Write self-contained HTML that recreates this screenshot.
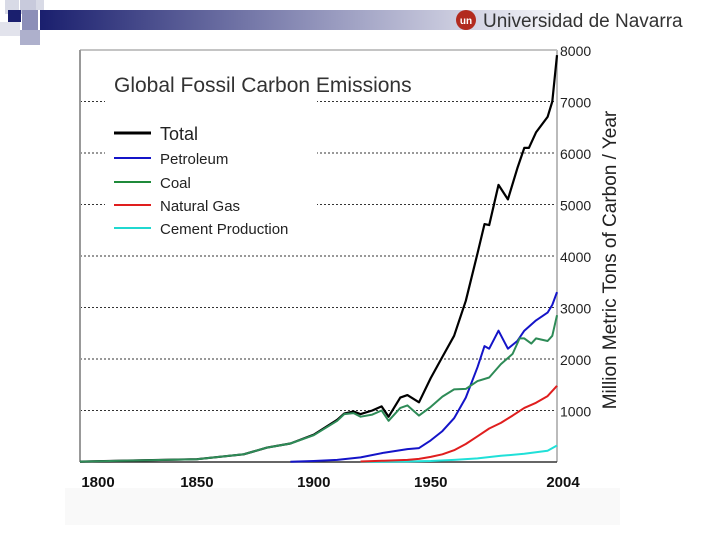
<!DOCTYPE html>
<html><head><meta charset="utf-8"><style>
body{margin:0;background:#fff;width:720px;height:540px;overflow:hidden;font-family:"Liberation Sans",sans-serif}
</style></head><body>
<svg id="c" width="720" height="540" xmlns="http://www.w3.org/2000/svg">
<defs><linearGradient id="g" x1="0" x2="1"><stop offset="0" stop-color="#1a1f6e"/><stop offset="0.55" stop-color="#9a9cc0"/><stop offset="1" stop-color="#fff"/></linearGradient></defs>
<g>
<rect x="40" y="10" width="540" height="20" fill="url(#g)"/>
<rect x="5" y="0" width="14" height="14" fill="#d8dae6"/>
<rect x="20" y="0" width="16" height="14" fill="#c8cadc"/>
<rect x="8" y="10" width="13" height="12" fill="#1a1f6e"/>
<rect x="22" y="10" width="16" height="20" fill="#8c8fb8"/>
<rect x="36" y="0" width="8" height="10" fill="#d8dae6"/>
<rect x="0" y="22" width="20" height="14" fill="#e2e3ec"/>
<rect x="20" y="30" width="20" height="15" fill="#aeb0cc"/>
</g>
<g>
<circle cx="466" cy="20" r="10" fill="#b22a1e"/>
<text x="466" y="24" font-size="10" font-weight="bold" fill="#fff" text-anchor="middle">un</text>
<text x="483" y="27" font-size="19" fill="#333">Universidad de Navarra</text>
</g>
<rect x="65" y="488" width="555" height="37" fill="#f9f9f9"/>
<g id="grid"></g>
<g id="axes"></g>
<g id="series"></g>
<g>
<rect x="105" y="70" width="212" height="172" fill="#fff"/>
<text x="114" y="92" font-size="21" fill="#333">Global Fossil Carbon Emissions</text>
<g><line x1="114" x2="151" y1="133" y2="133" stroke="#000" stroke-width="3"/><text x="160" y="140" font-size="18" fill="#222">Total</text></g>
<g><line x1="114" x2="151" y1="158" y2="158" stroke="#1414c8" stroke-width="2"/><text x="160" y="164" font-size="15" fill="#222">Petroleum</text></g>
<g><line x1="114" x2="151" y1="182" y2="182" stroke="#1f8a3a" stroke-width="2"/><text x="160" y="188" font-size="15" fill="#222">Coal</text></g>
<g><line x1="114" x2="151" y1="205" y2="205" stroke="#e01e1e" stroke-width="2"/><text x="160" y="211" font-size="15" fill="#222">Natural Gas</text></g>
<g><line x1="114" x2="151" y1="228" y2="228" stroke="#20d8d0" stroke-width="2"/><text x="160" y="234" font-size="15" fill="#222">Cement Production</text></g>
</g>
<text transform="translate(616,260) rotate(-90)" font-size="19" fill="#222" text-anchor="middle">Million Metric Tons of Carbon / Year</text>
</svg>
<script>
const yTicks=[1000,2000,3000,4000,5000,6000,7000,8000];
const xTicks=[1800,1850,1900,1950,2004];
const totalYears=[1800,1850,1870,1880,1890,1900,1910,1913,1917,1920,1925,1929,1932,1937,1940,1945,1950,1955,1960,1965,1970,1973,1975,1979,1983,1987,1990,1992,1995,2000,2002,2004];
const totalVals=[8,54,150,280,360,530,820,940,980,930,1000,1080,880,1250,1300,1160,1630,2040,2450,3130,4050,4620,4600,5380,5100,5700,6100,6100,6400,6700,7000,7900];
const coalYears=[1800,1850,1870,1880,1890,1900,1910,1913,1917,1920,1925,1929,1932,1937,1940,1945,1950,1955,1960,1965,1970,1975,1980,1985,1988,1990,1993,1995,2000,2002,2004];
const coalVals=[8,54,150,280,360,520,800,930,950,880,920,1000,800,1050,1100,900,1070,1270,1410,1420,1570,1640,1900,2100,2400,2400,2300,2400,2350,2450,2850];
const petroYears=[1890,1900,1910,1920,1930,1940,1945,1950,1955,1960,1965,1970,1973,1975,1979,1983,1987,1990,1995,2000,2002,2004];
const petroVals=[5,20,40,90,180,250,270,420,600,850,1250,1840,2250,2200,2550,2200,2350,2550,2750,2900,3050,3300];
const gasYears=[1920,1930,1940,1945,1950,1955,1960,1965,1970,1975,1980,1985,1990,1995,2000,2004];
const gasVals=[10,25,40,60,100,150,230,350,500,650,760,900,1050,1150,1280,1480];
const cemYears=[1920,1930,1940,1950,1960,1970,1980,1990,2000,2004];
const cemVals=[3,5,10,20,40,70,120,160,220,320];
const X0=80,X1=557,Y0=462,Y1=50;
const xs=y=>X0+(y-1800)/(2004-1800)*(X1-X0);
const ys=v=>Y0-v/8000*(Y0-Y1);
const NS='http://www.w3.org/2000/svg';
function mk(tag,attrs,parent){const e=document.createElementNS(NS,tag);for(const k in attrs)e.setAttribute(k,attrs[k]);document.getElementById(parent).appendChild(e);return e;}
yTicks.forEach(t=>{
 const l=mk('line',{x1:X0,x2:X1,y1:ys(t),y2:ys(t),stroke:t===8000?'#888':'#333','stroke-width':1,'stroke-dasharray':t===8000?'':'2,2'},'grid');
 
 
 const tx=mk('text',{x:X1+3,y:ys(t)+6,'font-size':14,fill:'#222'},'axes');
 tx.textContent=t;
 
 
});
let a=mk('line',{x1:X0,x2:X0,y1:Y1,y2:Y0,stroke:'#999','stroke-width':2},'axes');


a=mk('line',{x1:X1,x2:X1,y1:Y1,y2:Y0,stroke:'#bbb','stroke-width':2},'axes');


a=mk('line',{x1:X0,x2:X1,y1:Y0,y2:Y0,stroke:'#333','stroke-width':1.5},'axes');


xTicks.forEach(t=>{
 const tx=mk('text',{x:xs(t)+(t===1800?18:t===2004?6:0),y:487,'font-size':15,'font-weight':'bold',fill:'#111','text-anchor':'middle'},'axes');
 tx.textContent=t;
 
 
});
function line(yrs,vals,color,w,name){
 const d=yrs.map((y,i)=>(i?'L':'M')+xs(y).toFixed(1)+','+ys(vals[i]).toFixed(1)).join('');
 const p=mk('path',{d:d,fill:'none',stroke:color,'stroke-width':w,'stroke-linejoin':'round'},'series');
 
 
}
line(cemYears,cemVals,'#20e0d8',2,'cement-line');
line(gasYears,gasVals,'#e01e1e',2,'natural-gas-line');
line(petroYears,petroVals,'#1414c8',2,'petroleum-line');
line(totalYears,totalVals,'#000',2.2,'total-line');
line(coalYears,coalVals,'#2e8b57',2,'coal-line');
</script>
</body></html>
